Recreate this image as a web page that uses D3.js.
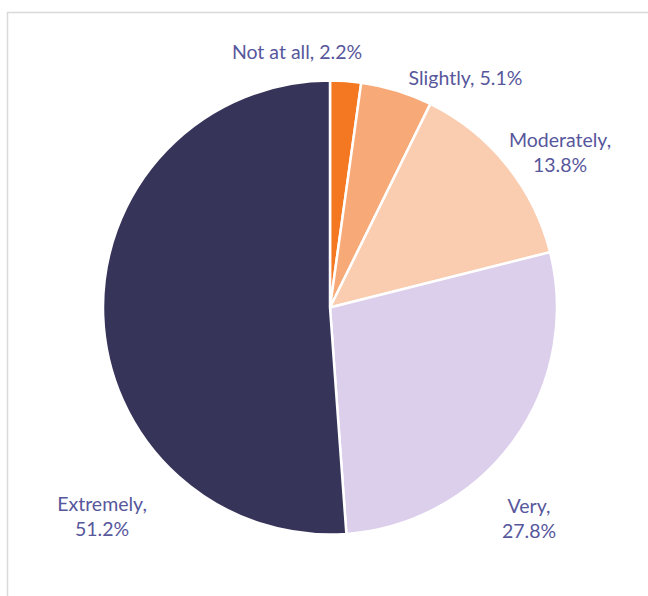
<!DOCTYPE html>
<html>
<head>
<meta charset="utf-8">
<script src="https://cdn.jsdelivr.net/npm/d3@7"></script>
<style>
  html, body { margin: 0; padding: 0; background: #ffffff; }
  svg { display: block; }
</style>
</head>
<body>
<svg id="chart" width="648" height="596"></svg>
<script>
// Response categories, clockwise from 12 o'clock
const categories = ["Not at all", "Slightly", "Moderately", "Very", "Extremely"];
// Share of respondents (%)
const shares = [2.2, 5.1, 13.8, 27.8, 51.2];
// Slice fills
const sliceColors = ["#F47722", "#F7A977", "#FACDB0", "#DCCFEC", "#37345A"];

const W = 648, H = 596;
const cx = 330, cy = 307.5, radius = 227;

const svg = d3.select("#chart");

// Chart-area frame: top and left edges only
svg.append("line")
  .attr("x1", 7).attr("x2", W).attr("y1", 12.5).attr("y2", 12.5)
  .attr("stroke", "#d9d9d9").attr("stroke-width", 1.5);
svg.append("line")
  .attr("x1", 7.5).attr("x2", 7.5).attr("y1", 12).attr("y2", H)
  .attr("stroke", "#d9d9d9").attr("stroke-width", 1.5);

const data = categories.map((c, i) => ({ label: c, value: shares[i], color: sliceColors[i] }));

const pie = d3.pie().sort(null).value(d => d.value);
const arc = d3.arc().innerRadius(0).outerRadius(radius);

const g = svg.append("g").attr("transform", `translate(${cx},${cy})`);

g.selectAll("path.slice")
  .data(pie(data))
  .join("path")
  .attr("class", "slice")
  .attr("d", arc)
  .attr("fill", d => d.data.color)
  .attr("stroke", "#ffffff")
  .attr("stroke-width", 2.5)
  .attr("stroke-linejoin", "round");

// Data label placement (centre x, baseline of first line), one or two lines each
const labelPlacement = [
  { x: 297, y: 59, lines: 1 },
  { x: 465.5, y: 85, lines: 1 },
  { x: 560, y: 147, lines: 2 },
  { x: 529, y: 513, lines: 2 },
  { x: 102, y: 511, lines: 2 }
];

const labels = svg.append("g")
  .attr("font-family", "Lato, 'Open Sans', sans-serif")
  .attr("font-size", 19.5)
  .attr("fill", "#57579C")
  .attr("text-anchor", "middle");

data.forEach((d, i) => {
  const p = labelPlacement[i];
  const pct = d3.format(".1f")(d.value) + "%";
  const t = labels.append("text").attr("x", p.x).attr("y", p.y);
  if (p.lines === 1) {
    t.text(`${d.label}, ${pct}`);
  } else {
    t.append("tspan").attr("x", p.x).attr("dy", 0).text(`${d.label},`);
    t.append("tspan").attr("x", p.x).attr("dy", 25).text(pct);
  }
});
</script>
</body>
</html>
